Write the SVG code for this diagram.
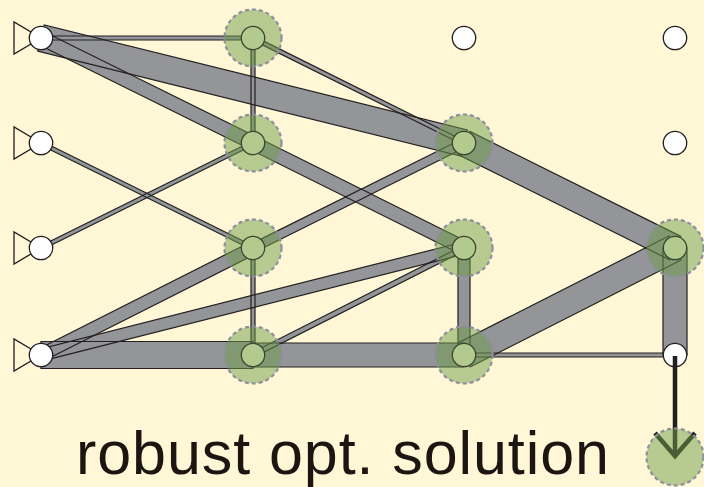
<svg xmlns="http://www.w3.org/2000/svg" xmlns:xlink="http://www.w3.org/1999/xlink" width="704" height="487" viewBox="0 0 704 487">
<style>
.bg{fill:#fff7d6}
.barf{fill:#939598;stroke:none}
.baro{fill:none;stroke:#231f20;stroke-width:1.2;stroke-linejoin:miter}
.halo{fill:#6f9e48;fill-opacity:0.5;stroke:#8d8fa0;stroke-width:2.2;stroke-dasharray:4 3}
.gn{fill:#b3ca8f;stroke:#3a4630;stroke-width:1.3}
.wn{fill:#ffffff;stroke:#231f20;stroke-width:1.3}
.src{fill:#fff7d6;stroke:#231f20;stroke-width:1.3;stroke-linejoin:miter}
.arr{fill:none;stroke:#231f20;stroke-width:4.5;stroke-linecap:butt;stroke-linejoin:miter}
.lbl{font-family:"Liberation Sans",Arial,sans-serif;font-size:61px;fill:#1c1512}
</style>
<defs>
<polygon id="e1" points="41,36 253,36 253,40 41,40"/>
<polygon id="e2" points="37.89,44.27 249.89,149.27 256.11,136.73 44.11,31.73"/>
<polygon id="e3" points="37.75,51.10 460.75,156.10 467.25,129.90 44.25,24.90"/>
<polygon id="e4" points="251,38 255,38 255,143 251,143"/>
<polygon id="e5" points="252.11,39.79 463.11,144.79 464.89,141.21 253.89,36.21"/>
<polygon id="e6" points="40.11,144.79 252.11,249.79 253.89,246.21 41.89,141.21"/>
<polygon id="e7" points="41.89,249.79 253.89,144.79 252.11,141.21 40.11,246.21"/>
<polygon id="e8" points="249.88,149.27 460.88,254.27 467.12,241.73 256.12,136.73"/>
<polygon id="e9" points="458.21,154.64 669.21,259.64 680.79,236.36 469.79,131.36"/>
<polygon id="e10" points="255.00,252.03 466.00,147.03 462.00,138.97 251.00,243.97"/>
<polygon id="e11" points="43.93,360.80 255.93,253.80 250.07,242.20 38.07,349.20"/>
<polygon id="e12" points="251,248 255,248 255,355 251,355"/>
<polygon id="e13" points="42.47,360.82 465.47,253.82 462.53,242.18 39.53,349.18"/>
<polygon id="e14" points="41,341.5 253,341.5 253,368.5 41,368.5"/>
<polygon id="e15" points="253,343 464,343 464,367 253,367"/>
<polygon id="e16" points="254.13,357.23 465.13,250.23 462.87,245.77 251.87,352.77"/>
<polygon id="e17" points="458,248 470,248 470,355 458,355"/>
<polygon id="e18" points="470.11,367.04 681.11,260.04 668.89,235.96 457.89,342.96"/>
<polygon id="e19" points="464,353 675,353 675,357 464,357"/>
<polygon id="e20" points="663,248 687,248 687,355 663,355"/>
</defs>
<rect class="bg" x="0" y="0" width="704" height="487"/>
<g id="connectors">
<g class="barf">
<use xlink:href="#e1"/><use xlink:href="#e2"/><use xlink:href="#e3"/><use xlink:href="#e4"/><use xlink:href="#e5"/><use xlink:href="#e6"/><use xlink:href="#e7"/><use xlink:href="#e8"/><use xlink:href="#e9"/><use xlink:href="#e10"/><use xlink:href="#e11"/><use xlink:href="#e12"/><use xlink:href="#e13"/><use xlink:href="#e14"/><use xlink:href="#e15"/><use xlink:href="#e16"/><use xlink:href="#e17"/><use xlink:href="#e18"/><use xlink:href="#e19"/><use xlink:href="#e20"/>
</g>
<g class="baro">
<use xlink:href="#e1"/><use xlink:href="#e2"/><use xlink:href="#e3"/><use xlink:href="#e4"/><use xlink:href="#e5"/><use xlink:href="#e6"/><use xlink:href="#e7"/><use xlink:href="#e8"/><use xlink:href="#e9"/><use xlink:href="#e10"/><use xlink:href="#e11"/><use xlink:href="#e12"/><use xlink:href="#e13"/><use xlink:href="#e14"/><use xlink:href="#e15"/><use xlink:href="#e16"/><use xlink:href="#e17"/><use xlink:href="#e18"/><use xlink:href="#e19"/><use xlink:href="#e20"/>
</g>
</g>
<g id="A1"><polygon class="src" points="14,22 14,54 41,38"/><circle class="wn" cx="41" cy="38" r="11.7"/></g>
<g id="A2"><polygon class="src" points="14,127 14,159 41,143"/><circle class="wn" cx="41" cy="143" r="11.7"/></g>
<g id="A3"><polygon class="src" points="14,232 14,264 41,248"/><circle class="wn" cx="41" cy="248" r="11.7"/></g>
<g id="A4"><polygon class="src" points="14,339 14,371 41,355"/><circle class="wn" cx="41" cy="355" r="11.7"/></g>
<g id="B1"><circle class="halo" cx="253" cy="38" r="28.5"/><circle class="gn" cx="253" cy="38" r="11.7"/></g>
<g id="B2"><circle class="halo" cx="253" cy="143" r="28.5"/><circle class="gn" cx="253" cy="143" r="11.7"/></g>
<g id="B3"><circle class="halo" cx="253" cy="248" r="28.5"/><circle class="gn" cx="253" cy="248" r="11.7"/></g>
<g id="B4"><circle class="halo" cx="253" cy="355" r="28.5"/><circle class="gn" cx="253" cy="355" r="11.7"/></g>
<g id="C1"><circle class="wn" cx="464" cy="38" r="11.7"/></g>
<g id="C2"><circle class="halo" cx="464" cy="143" r="28.5"/><circle class="gn" cx="464" cy="143" r="11.7"/></g>
<g id="C3"><circle class="halo" cx="464" cy="248" r="28.5"/><circle class="gn" cx="464" cy="248" r="11.7"/></g>
<g id="C4"><circle class="halo" cx="464" cy="355" r="28.5"/><circle class="gn" cx="464" cy="355" r="11.7"/></g>
<g id="D1"><circle class="wn" cx="675" cy="38" r="11.7"/></g>
<g id="D2"><circle class="wn" cx="675" cy="143" r="11.7"/></g>
<g id="D3"><circle class="halo" cx="675" cy="248" r="28.5"/><circle class="gn" cx="675" cy="248" r="11.7"/></g>
<g id="D4"><circle class="wn" cx="675" cy="355" r="11.7"/></g>
<g id="output-arrow">
<line class="arr" x1="675" y1="356" x2="675" y2="455"/>
<polyline class="arr" points="655,433 675,456 695,433"/>
</g>
<g id="sink"><circle class="halo" cx="675" cy="457" r="28.5"/></g>
<text class="lbl" x="76" y="474" textLength="533">robust opt. solution</text>
</svg>
